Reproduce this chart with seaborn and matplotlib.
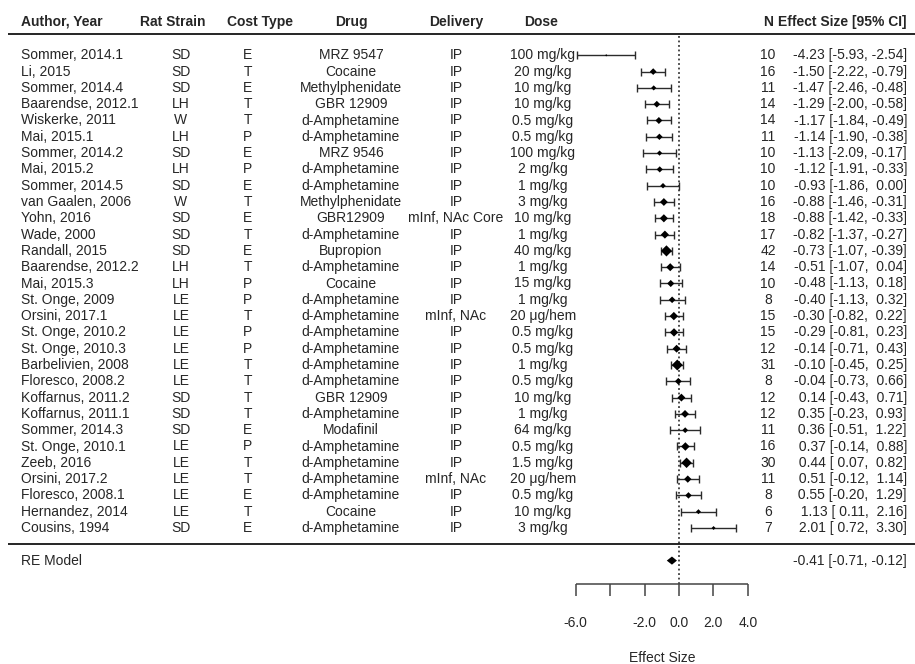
import numpy as np
import pandas as pd
import matplotlib
matplotlib.use("Agg")
import matplotlib.pyplot as plt
import seaborn as sns
from matplotlib.transforms import blended_transform_factory

# ---- study table ----
authors = [
    "Sommer, 2014.1", "Li, 2015", "Sommer, 2014.4", "Baarendse, 2012.1", "Wiskerke, 2011",
    "Mai, 2015.1", "Sommer, 2014.2", "Mai, 2015.2", "Sommer, 2014.5", "van Gaalen, 2006",
    "Yohn, 2016", "Wade, 2000", "Randall, 2015", "Baarendse, 2012.2", "Mai, 2015.3",
    "St. Onge, 2009", "Orsini, 2017.1", "St. Onge, 2010.2", "St. Onge, 2010.3", "Barbelivien, 2008",
    "Floresco, 2008.2", "Koffarnus, 2011.2", "Koffarnus, 2011.1", "Sommer, 2014.3", "St. Onge, 2010.1",
    "Zeeb, 2016", "Orsini, 2017.2", "Floresco, 2008.1", "Hernandez, 2014", "Cousins, 1994",
]
strains = [
    "SD", "SD", "SD", "LH", "W", "LH", "SD", "LH", "SD", "W",
    "SD", "SD", "SD", "LH", "LH", "LE", "LE", "LE", "LE", "LE",
    "LE", "SD", "SD", "SD", "LE", "LE", "LE", "LE", "LE", "SD",
]
cost_types = [
    "E", "T", "E", "T", "T", "P", "E", "P", "E", "T",
    "E", "T", "E", "T", "P", "P", "T", "P", "P", "T",
    "T", "T", "T", "E", "P", "T", "T", "E", "T", "E",
]
drugs = [
    "MRZ 9547", "Cocaine", "Methylphenidate", "GBR 12909", "d-Amphetamine",
    "d-Amphetamine", "MRZ 9546", "d-Amphetamine", "d-Amphetamine", "Methylphenidate",
    "GBR12909", "d-Amphetamine", "Bupropion", "d-Amphetamine", "Cocaine",
    "d-Amphetamine", "d-Amphetamine", "d-Amphetamine", "d-Amphetamine", "d-Amphetamine",
    "d-Amphetamine", "GBR 12909", "d-Amphetamine", "Modafinil", "d-Amphetamine",
    "d-Amphetamine", "d-Amphetamine", "d-Amphetamine", "Cocaine", "d-Amphetamine",
]
deliveries = [
    "IP", "IP", "IP", "IP", "IP", "IP", "IP", "IP", "IP", "IP",
    "mInf, NAc Core", "IP", "IP", "IP", "IP", "IP", "mInf, NAc", "IP", "IP", "IP",
    "IP", "IP", "IP", "IP", "IP", "IP", "mInf, NAc", "IP", "IP", "IP",
]
doses = [
    "100 mg/kg", "20 mg/kg", "10 mg/kg", "10 mg/kg", "0.5 mg/kg",
    "0.5 mg/kg", "100 mg/kg", "2 mg/kg", "1 mg/kg", "3 mg/kg",
    "10 mg/kg", "1 mg/kg", "40 mg/kg", "1 mg/kg", "15 mg/kg",
    "1 mg/kg", "20 \u03bcg/hem", "0.5 mg/kg", "0.5 mg/kg", "1 mg/kg",
    "0.5 mg/kg", "10 mg/kg", "1 mg/kg", "64 mg/kg", "0.5 mg/kg",
    "1.5 mg/kg", "20 \u03bcg/hem", "0.5 mg/kg", "10 mg/kg", "3 mg/kg",
]
n_subjects = [10, 16, 11, 14, 14, 11, 10, 10, 10, 16, 18, 17, 42, 14, 10,
              8, 15, 15, 12, 31, 8, 12, 12, 11, 16, 30, 11, 8, 6, 7]
effect = [-4.23, -1.50, -1.47, -1.29, -1.17, -1.14, -1.13, -1.12, -0.93, -0.88,
          -0.88, -0.82, -0.73, -0.51, -0.48, -0.40, -0.30, -0.29, -0.14, -0.10,
          -0.04, 0.14, 0.35, 0.36, 0.37, 0.44, 0.51, 0.55, 1.13, 2.01]
ci_lower = [-5.93, -2.22, -2.46, -2.00, -1.84, -1.90, -2.09, -1.91, -1.86, -1.46,
            -1.42, -1.37, -1.07, -1.07, -1.13, -1.13, -0.82, -0.81, -0.71, -0.45,
            -0.73, -0.43, -0.23, -0.51, -0.14, 0.07, -0.12, -0.20, 0.11, 0.72]
ci_upper = [-2.54, -0.79, -0.48, -0.58, -0.49, -0.38, -0.17, -0.33, 0.00, -0.31,
            -0.33, -0.27, -0.39, 0.04, 0.18, 0.32, 0.22, 0.23, 0.43, 0.25,
            0.66, 0.71, 0.93, 1.22, 0.88, 0.82, 1.14, 1.29, 2.16, 3.30]

# ---- pooled estimate ----
re_label = "RE Model"
re_effect = -0.41
re_lower = -0.71
re_upper = -0.12

headers = ["Author, Year", "Rat Strain", "Cost Type", "Drug", "Delivery",
           "Dose", "N", "Effect Size [95% CI]"]
axis_ticks = [-6, -4, -2, 0, 2, 4]
axis_tick_labels = ["-6.0", "", "-2.0", "0.0", "2.0", "4.0"]
axis_title = "Effect Size"

sns.set_theme(style="white")
plt.rcParams["font.family"] = ["Liberation Sans", "DejaVu Sans"]
plt.rcParams["font.size"] = 10

W, H = 915, 664
fig = plt.figure(figsize=(W / 100, H / 100), dpi=100)
ax = fig.add_axes([0, 0, 1, 1])
ax.set_axis_off()

# effect-size axis: zero at 679 px, 17.2 px per unit; rows 16.3 px apart
zero_px, unit_px = 679.0, 17.2
row_px, last_row_px = 16.3, 528.0
ax.set_xlim(-zero_px / unit_px, (W - zero_px) / unit_px)
ax.set_ylim(1 - (H - last_row_px) / row_px, 1 + last_row_px / row_px)

k = len(authors)
df = pd.DataFrame({
    "author": authors, "strain": strains, "cost": cost_types, "drug": drugs,
    "delivery": deliveries, "dose": doses, "n": n_subjects,
    "effect": effect, "lower": ci_lower, "upper": ci_upper,
})
df["row"] = np.arange(k, 0, -1)

# marker size grows with precision (1 / SE)
se = (df["upper"] - df["lower"]) / 3.92
prec = 1 / se
scaled = (prec - prec.min()) / (prec.max() - prec.min())
width_pt = (2.2 + 9.0 * scaled ** 0.65) * 0.72
df["area"] = (width_pt / np.sqrt(2)) ** 2

ink = "#2b2b2b"
ax.errorbar(df["effect"], df["row"],
            xerr=[df["effect"] - df["lower"], df["upper"] - df["effect"]],
            fmt="none", ecolor=ink, elinewidth=1.0, capsize=2.6, capthick=1.0, zorder=2)
sns.scatterplot(data=df, x="effect", y="row", size="area",
                sizes=(df["area"].min(), df["area"].max()),
                marker="D", color="black", linewidth=0, legend=False, ax=ax, zorder=3)

# pooled estimate diamond
re_row = -1
h = 0.25
ax.fill([re_lower, re_effect, re_upper, re_effect],
        [re_row, re_row + h, re_row, re_row - h], color="black", lw=0, zorder=3)

# layout rows (in row units)
header_y = 32.05
header_line_y = 31.3
axis_y = -2.44
tick_len = 0.73
tick_label_y = -4.83
title_y = -6.98

blend = blended_transform_factory(ax.transAxes, ax.transData)

# rules under header and above pooled row
for yy in (header_line_y, 0):
    ax.plot([8 / W, 1.0], [yy, yy], color="black", lw=1.2, transform=blend,
            solid_capstyle="butt")

# reference line at zero
ax.vlines(0, axis_y, header_line_y - 0.1, colors="#3a3a3a",
          linestyles=(0, (1, 1.5)), lw=1.3, zorder=1)

# x-axis drawn as a bracket
ax.hlines(axis_y, min(axis_ticks), max(axis_ticks), colors="#444444", lw=1.1)
ax.vlines(axis_ticks, axis_y - tick_len, axis_y, colors="#444444", lw=1.1)
for t, lab in zip(axis_ticks, axis_tick_labels):
    ax.text(t, tick_label_y, lab, ha="center", va="center", fontsize=10)
ax.text(np.mean([min(axis_ticks), max(axis_ticks)]), title_y, axis_title,
        ha="center", va="center", fontsize=10)

# column positions (fraction of width)
col_author = 21 / W
col_strain, col_strain_h = 181 / W, 173 / W
col_cost, col_cost_h = 248 / W, 260 / W
col_drug = 351 / W
col_deliv = 456 / W
col_dose, col_dose_h = 543 / W, 541 / W
col_n = 768 / W
col_es = 907 / W

hdr = dict(fontweight="bold", fontsize=10, va="center", transform=blend)
ax.text(col_author, header_y, headers[0], ha="left", **hdr)
ax.text(col_strain_h, header_y, headers[1], ha="center", **hdr)
ax.text(col_cost_h, header_y, headers[2], ha="center", **hdr)
ax.text(col_drug, header_y, headers[3], ha="center", **hdr)
ax.text(col_deliv, header_y, headers[4], ha="center", **hdr)
ax.text(col_dose_h, header_y, headers[5], ha="center", **hdr)
ax.text(col_n, header_y, headers[6], ha="center", **hdr)
ax.text(col_es, header_y, headers[7], ha="right", **hdr)


def fmt_ci(est, lo, hi):
    return f"{est:5.2f} [{lo:5.2f}, {hi:5.2f}]"


cell = dict(fontsize=10, va="center", transform=blend)
for _, r in df.iterrows():
    y = r["row"]
    ax.text(col_author, y, r["author"], ha="left", **cell)
    ax.text(col_strain, y, r["strain"], ha="center", **cell)
    ax.text(col_cost, y, r["cost"], ha="center", **cell)
    ax.text(col_drug, y, r["drug"], ha="center", **cell)
    ax.text(col_deliv, y, r["delivery"], ha="center", **cell)
    ax.text(col_dose, y, r["dose"], ha="center", **cell)
    ax.text(col_n, y, str(r["n"]), ha="center", **cell)
    ax.text(col_es, y, fmt_ci(r["effect"], r["lower"], r["upper"]), ha="right", **cell)

ax.text(col_author, re_row, re_label, ha="left", **cell)
ax.text(col_es, re_row, fmt_ci(re_effect, re_lower, re_upper), ha="right", **cell)

fig.savefig("out.png", dpi=100, facecolor="white")
